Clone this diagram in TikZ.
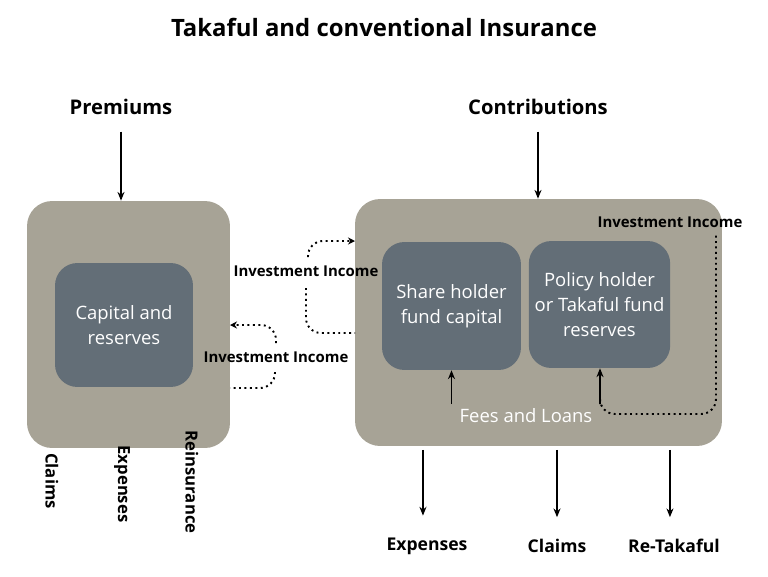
\documentclass[tikz,border=0pt]{standalone}
\usepackage{fontspec}
\setmainfont{Open Sans}
\usepackage{tikz}
\usetikzlibrary{arrows.meta,positioning}
\definecolor{outerfill}{RGB}{167,163,150}
\definecolor{innerfill}{RGB}{99,110,119}
\tikzset{
    outerbox/.style = {rectangle, rounded corners=0.5cm, fill=outerfill, draw=none},
    innerbox/.style = {rectangle, rounded corners=0.45cm, fill=innerfill, draw=none, text=white, align=center, font=\fontsize{10.5}{14}\selectfont},
    heading/.style = {font=\bfseries\fontsize{11.5}{13}\selectfont},
    outlabel/.style = {font=\bfseries\fontsize{10}{12}\selectfont},
    sidelabel/.style = {font=\bfseries\fontsize{9.5}{11}\selectfont, rotate=-90},
    invlabel/.style = {font=\bfseries\fontsize{8.5}{10}\selectfont, inner sep=1pt},
    flow/.style = {-{Stealth[length=5pt,width=4pt]}, thick},
    income/.style = {dotted, line width=1.1pt, rounded corners=0.3cm}
}
\begin{document}
\begin{tikzpicture}[x=0.02cm, y=-0.02cm]
    \useasboundingbox (0,0) rectangle (768,576);

    \node [font=\bfseries\fontsize{13.6}{16}\selectfont] (title) at (384,27) {Takaful and conventional Insurance};

    \node [heading] (premiums) at (121,107) {Premiums};
    \node [heading] (contrib) at (538,107) {Contributions};

    \node [outerbox, minimum width=4.06cm, minimum height=4.94cm] (leftbox) at (128.5,324.5) {};
    \node [innerbox, minimum width=2.76cm, minimum height=2.48cm] (capital) at (124,325) {Capital and\\reserves};

    \node [outerbox, minimum width=7.34cm, minimum height=4.94cm] (rightbox) at (538.5,322.5) {};
    \node [innerbox, minimum width=2.78cm, minimum height=2.56cm] (share) at (451.5,306) {Share holder\\fund capital};
    \node [innerbox, minimum width=2.78cm, minimum height=2.54cm] (policy) at (599.5,304.5) {Policy holder\\or Takaful fund\\reserves};
    \node [text=white, font=\fontsize{10.5}{12}\selectfont] (fees) at (526,416) {Fees and Loans};
    \node [invlabel] (invright) at (670,222) {Investment Income};

    \node [invlabel] (invtop) at (306,271) {Investment Income};
    \node [invlabel] (invbot) at (276,357) {Investment Income};

    \node [sidelabel] (lclaims) at (52,481) {Claims};
    \node [sidelabel] (lexp) at (122,484) {Expenses};
    \node [sidelabel] (lreins) at (192,482) {Reinsurance};

    \node [outlabel] (rexp) at (427,546) {Expenses};
    \node [outlabel] (rclaims) at (557,546) {Claims};
    \node [outlabel] (rretak) at (674,546) {Re-Takaful};

    \coordinate (feesstart) at (600,404);
    \coordinate (loopcorner) at (716,414);
    \coordinate (looptop) at (716,235);
    \coordinate (topstart) at (308,257);
    \coordinate (topend) at (355,241);
    \coordinate (midstart) at (306,288);
    \coordinate (midend) at (355,333);
    \coordinate (lowstart) at (276,343);
    \coordinate (lowend) at (230,325);
    \coordinate (botstart) at (275,372);
    \coordinate (botend) at (230,388);

    \draw [flow, shorten <=6pt] (premiums) -- (premiums |- leftbox.north);
    \draw [flow, shorten <=6pt] (contrib) -- (contrib |- rightbox.north);

    \draw [flow, shorten >=9pt, shorten <=2pt] ([xshift=-2.3pt]rightbox.south -| rexp.north) -- ([xshift=-2.3pt]rexp.north);
    \draw [flow, shorten >=9pt, shorten <=2pt] (rightbox.south -| rclaims.north) -- (rclaims.north);
    \draw [flow, shorten >=9pt, shorten <=2pt] ([xshift=-2.3pt]rightbox.south -| rretak.north) -- ([xshift=-2.3pt]rretak.north);

    \draw [flow] (share.south |- feesstart) -- (share.south);
    \draw [flow] (feesstart) -- (feesstart |- policy.south);
    \draw [income] (feesstart) |- (loopcorner) -- (looptop);

    \draw [income, -{Stealth[length=4pt,width=4pt]}] (topstart) |- (topend);
    \draw [income] (midstart) |- (midend);

    \draw [income, -{Stealth[length=4pt,width=4pt]}] (lowstart) |- (lowend);
    \draw [income] (botstart) |- (botend);
\end{tikzpicture}
\end{document}
